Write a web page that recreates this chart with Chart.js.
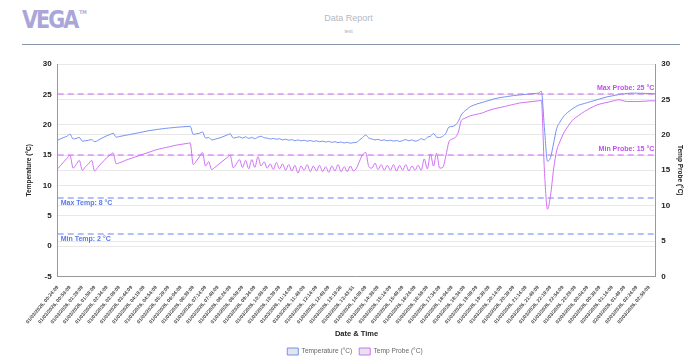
<!DOCTYPE html>
<html>
<head>
<meta charset="utf-8">
<script src="https://cdn.jsdelivr.net/npm/chart.js@4.4.1/dist/chart.umd.min.js"></script>
<style>
  html,body{margin:0;padding:0;background:#fff;width:697px;height:357px;overflow:hidden;font-family:"Liberation Sans",Arial,sans-serif;}
  #logo{position:absolute;left:22px;top:7px;font-family:"DejaVu Sans Condensed","DejaVu Sans",sans-serif;font-weight:bold;font-size:23px;color:#aaa6da;letter-spacing:-2px;transform:scaleY(1.05);}
  #logo sup{font-size:5px;letter-spacing:0;vertical-align:top;position:relative;top:2px;left:2px;}
  #title{position:absolute;left:0;width:697px;top:13px;text-align:center;font-size:9px;color:#b4b8c4;}
  #sub{position:absolute;left:0;width:697px;top:28px;text-align:center;font-size:5px;color:#a8acb8;}
  #rule{position:absolute;left:22px;width:658px;top:44px;height:1px;background:#8793a8;}
  #wrap{position:absolute;left:0;top:50px;width:697px;height:315px;}
</style>
</head>
<body>
<div id="logo">VEGA<sup>TM</sup></div>
<div id="title">Data Report</div>
<div id="sub">test</div>
<div id="rule"></div>
<div id="wrap"><canvas id="c"></canvas></div>
<script>
const tickLabels = [
"01/03/2026, 00:24:09","01/03/2026, 00:59:09","01/03/2026, 01:29:09","01/03/2026, 01:59:09","01/03/2026, 02:34:09",
"01/03/2026, 03:09:09","01/03/2026, 03:44:09","01/03/2026, 04:19:09","01/03/2026, 04:54:09","01/03/2026, 05:29:09",
"01/03/2026, 06:04:09","01/03/2026, 06:39:09","01/03/2026, 07:14:09","01/03/2026, 07:49:09","01/03/2026, 08:24:09",
"01/03/2026, 08:59:09","01/03/2026, 09:34:09","01/03/2026, 10:09:09","01/03/2026, 10:39:09","01/03/2026, 11:14:09",
"01/03/2026, 11:49:09","01/03/2026, 12:14:09","01/03/2026, 12:49:09","01/03/2026, 13:19:26","01/03/2026, 13:43:51",
"01/03/2026, 14:09:09","01/03/2026, 14:39:09","01/03/2026, 15:14:09","01/03/2026, 15:49:09","01/03/2026, 16:24:09",
"01/03/2026, 16:59:09","01/03/2026, 17:34:09","01/03/2026, 18:04:09","01/03/2026, 18:34:09","01/03/2026, 19:09:09",
"01/03/2026, 19:39:09","01/03/2026, 20:14:09","01/03/2026, 20:39:09","01/03/2026, 21:14:09","01/03/2026, 21:49:09",
"01/03/2026, 22:19:09","01/03/2026, 22:54:09","01/03/2026, 23:29:09","02/03/2026, 00:04:09","02/03/2026, 00:39:09",
"02/03/2026, 01:14:09","02/03/2026, 01:49:09","02/03/2026, 02:24:09","02/03/2026, 02:59:09"
];
const samplesPerTick = 4;

const tempValues = [
17.45,17.7,17.9,18.1,18.45,17.65,17.75,17.9,17.3,17.35,
17.45,17.55,17.2,17.4,17.7,17.95,18.2,18.4,18.6,17.95,
18.05,18.15,18.25,18.35,18.45,18.55,18.65,18.75,18.85,18.95,
19.05,19.12,19.2,19.27,19.33,19.4,19.45,19.5,19.55,19.6,
19.63,19.67,19.7,19.75,18.4,18.5,18.6,18.8,17.8,17.9,
17.5,17.6,17.75,17.9,18.1,18.3,18.5,17.8,17.9,18.0,
17.8,18.0,17.75,17.9,17.7,17.95,18.1,17.85,17.8,17.65,
17.75,17.6,17.7,17.5,17.6,17.45,17.55,17.35,17.5,17.35,
17.45,17.3,17.4,17.25,17.35,17.2,17.3,17.15,17.25,17.1,
17.2,17.05,17.15,17.0,17.1,16.95,17.05,17.1,17.5,17.9,
18.3,17.8,17.65,17.5,17.6,17.4,17.5,17.35,17.45,17.3,
17.4,17.25,17.4,17.55,17.35,17.5,17.3,17.4,17.7,17.5,
17.95,18.1,18.55,17.95,17.9,18.1,18.6,19.6,19.7,19.9,
20.5,21.6,22.2,22.6,23.0,23.2,23.4,23.55,23.7,23.85,
24.0,24.15,24.3,24.4,24.5,24.57,24.65,24.72,24.8,24.85,
24.9,24.95,25.0,25.05,25.1,25.15,25.2,25.5,19.5,14.0,
14.6,17.0,19.4,20.4,21.2,21.8,22.2,22.6,22.9,23.2,
23.35,23.5,23.65,23.8,23.95,24.1,24.25,24.4,24.55,24.65,
24.75,24.85,24.95,25.05,25.1,25.15,25.2,25.2,25.2,25.18,
25.17,25.15,25.15,25.12,25.1
];

const probeValues = [
15.2,15.7,16.2,16.7,17.1,15.3,15.8,16.4,15.0,15.5,
15.9,16.4,14.9,15.4,15.9,16.35,16.8,17.15,17.45,15.9,
16.05,16.2,16.4,16.55,16.7,16.85,17.0,17.15,17.3,17.45,
17.6,17.75,17.9,18.0,18.1,18.2,18.3,18.4,18.5,18.58,
18.65,18.72,18.78,18.86,15.8,16.3,16.9,17.5,15.6,16.2,
15.1,15.4,15.75,16.1,16.45,16.8,17.1,15.35,15.9,16.5,
15.4,16.4,15.2,16.5,15.4,16.9,15.6,16.2,15.3,15.9,
15.1,16.1,15.2,15.9,15.0,15.8,14.9,15.7,14.6,15.6,
15.0,15.8,14.8,15.6,14.9,15.7,14.8,15.5,14.7,15.6,
14.9,15.8,14.8,15.5,14.8,15.6,14.9,15.3,16.3,17.2,
17.5,15.5,15.3,16.0,15.1,15.8,15.0,15.7,15.0,15.8,
14.9,15.7,15.0,15.8,14.9,15.6,15.0,15.7,15.0,16.6,
15.2,17.3,15.6,17.4,15.3,15.4,17.0,19.0,19.4,19.6,
20.3,22.0,22.3,22.5,22.7,22.8,22.9,23.0,23.1,23.3,
23.45,23.6,23.7,23.8,23.9,24.0,24.1,24.2,24.3,24.4,
24.5,24.55,24.6,24.65,24.7,24.75,24.8,24.85,15.0,9.5,
11.5,15.2,17.8,19.0,20.0,20.8,21.4,22.0,22.4,22.7,
23.0,23.3,23.55,23.8,24.0,24.2,24.35,24.45,24.55,24.65,
24.75,24.85,24.95,24.9,24.75,24.7,24.7,24.7,24.7,24.7,
24.75,24.75,24.8,24.8,24.8
];

const tempLimits = [ {label:"Max Temp: 8 °C", value:8}, {label:"Min Temp: 2 °C", value:2} ];
const probeLimits = [ {label:"Max Probe: 25 °C", value:25}, {label:"Min Probe: 15 °C", value:15} ];

const BLUE = '#7592ee';
const PURPLE = '#d070f6';
const FONT = '"Liberation Sans", Arial, sans-serif';

const labels = tempValues.map((_, i) => (i % samplesPerTick === 0 && tickLabels[i / samplesPerTick]) ? tickLabels[i / samplesPerTick] : '');

const limitPlugin = {
  id: 'limits',
  afterDatasetsDraw(chart) {
    const {ctx, chartArea: a, scales} = chart;
    const y = scales.y;
    const draw = (list, color, textColor, side) => {
      list.forEach(l => {
        const py = Math.round(y.getPixelForValue(l.value));
        ctx.save();
        ctx.globalAlpha = 1;
        ctx.lineWidth = 1.1;
        ctx.setLineDash([6, 4]);
        ctx.strokeStyle = color;
        ctx.beginPath(); ctx.moveTo(a.left, py); ctx.lineTo(a.right, py); ctx.stroke();
        ctx.setLineDash([]);
        ctx.fillStyle = textColor;
        ctx.font = 'bold 7px ' + FONT;
        if (side === 'left') {
          ctx.textAlign = 'left'; ctx.textBaseline = 'top';
          ctx.fillText(l.label, a.left + 3, py + 2);
        } else {
          ctx.textAlign = 'right'; ctx.textBaseline = 'bottom';
          ctx.fillText(l.label, a.right - 1, py - 2);
        }
        ctx.restore();
      });
    };
    draw(tempLimits, '#6684f6', '#5a78ea', 'left');
    draw(probeLimits, '#cc66f6', '#c24ef2', 'right');
  }
};

new Chart(document.getElementById('c'), {
  type: 'line',
  data: {
    labels: labels,
    datasets: [
      { label: 'Temperature (°C)', data: tempValues, yAxisID: 'y', borderColor: BLUE, backgroundColor: '#e3e5ea', borderWidth: 1, pointRadius: 0, fill: false, cubicInterpolationMode: 'monotone' },
      { label: 'Temp Probe (°C)', data: probeValues, yAxisID: 'y1', borderColor: PURPLE, backgroundColor: '#e3e5ea', borderWidth: 1, pointRadius: 0, fill: false, cubicInterpolationMode: 'monotone' }
    ]
  },
  options: {
    responsive: true,
    maintainAspectRatio: false,
    animation: false,
    layout: { padding: { top: 14, left: 25, right: 12, bottom: 0 } },
    plugins: {
      legend: {
        position: 'bottom',
        labels: { boxWidth: 11, boxHeight: 7, font: { size: 6.6, family: FONT }, color: '#666', padding: 7 }
      },
      tooltip: { enabled: false }
    },
    scales: {
      x: {
        grid: { display: false },
        border: { display: true, color: '#999' },
        ticks: { autoSkip: false, minRotation: 50, maxRotation: 50, font: { size: 5, weight: 'bold', family: FONT }, color: '#444', padding: 0 },
        title: { display: true, text: 'Date & Time', font: { size: 7.5, weight: 'bold', family: FONT }, color: '#222', padding: { top: 4, bottom: 3 } }
      },
      y: {
        position: 'left', min: -5, max: 30,
        ticks: { stepSize: 5, font: { size: 8, weight: 'bold', family: FONT }, color: '#222', padding: 6 },
        grid: { color: '#e8e8e8', drawTicks: false },
        border: { color: '#999' },
        title: { display: true, text: 'Temperature (°C)', font: { size: 6.5, weight: 'bold', family: FONT }, color: '#222', padding: { top: 0, bottom: 4 } }
      },
      y1: {
        position: 'right', min: 0, max: 30,
        ticks: { stepSize: 5, font: { size: 8, weight: 'bold', family: FONT }, color: '#222', padding: 6 },
        grid: { color: '#e8e8e8', drawTicks: false },
        border: { color: '#999' },
        title: { display: true, text: 'Temp Probe (°C)', font: { size: 6.5, weight: 'bold', family: FONT }, color: '#222', padding: { top: 1, bottom: 0 } }
      }
    }
  },
  plugins: [limitPlugin]
});
</script>
</body>
</html>
